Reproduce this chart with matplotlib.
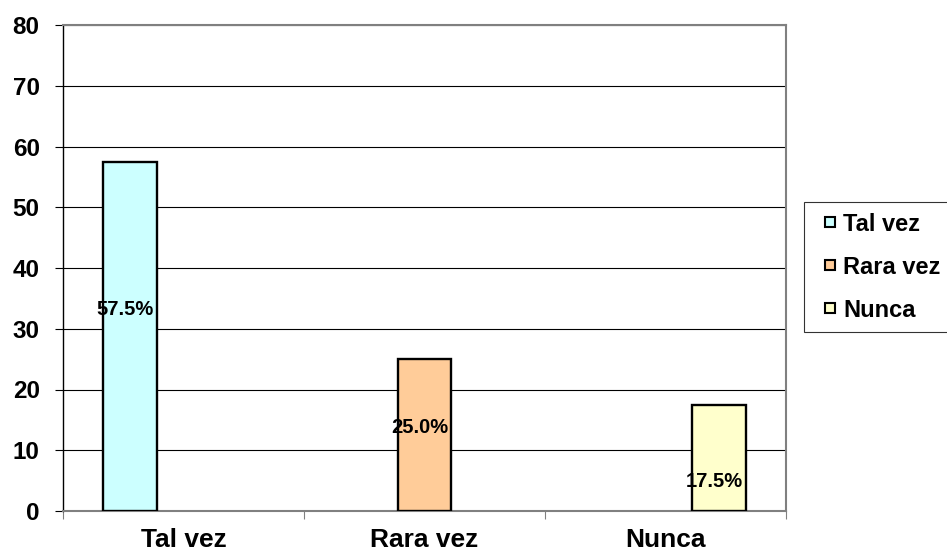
import matplotlib
matplotlib.use("Agg")
import matplotlib.pyplot as plt
from matplotlib.legend_handler import HandlerPatch
from matplotlib.patches import Rectangle
import numpy as np

categories = ["Tal vez", "Rara vez", "Nunca"]
series = ["Tal vez", "Rara vez", "Nunca"]
values = [57.5, 25.0, 17.5]
labels = ["57.5%", "25.0%", "17.5%"]
label_y = [33.1, 13.7, 4.9]
colors = ["#CCFFFF", "#FFCC99", "#FFFFCC"]
yticks = [0, 10, 20, 30, 40, 50, 60, 70, 80]

plt.rcParams['font.family'] = ['Liberation Sans', 'DejaVu Sans']

fig = plt.figure(figsize=(9.47, 5.51), dpi=100)
ax = fig.add_axes([63/947, 40/551, (786-63)/947, (511-25)/551])

x = np.arange(len(categories))
w = 0.224
offsets = [-w, 0, w]
handles = []
for i, s in enumerate(series):
    h = ax.bar(x[i] + offsets[i], values[i], width=w, color=colors[i],
               edgecolor="black", linewidth=1.7, label=s, zorder=3)
    handles.append(h.patches[0])
    ax.text(x[i] + offsets[i] - 0.02, label_y[i], labels[i], ha="center", va="center",
            fontsize=14.5, fontweight="bold", zorder=4)

ax.set_xlim(-0.5, 2.5)
ax.set_ylim(0, 80)
ax.set_yticks(yticks)
ax.set_yticklabels([str(t) for t in yticks], fontsize=17.5, fontweight="bold")
ax.yaxis.grid(True, color="black", linewidth=0.8, zorder=0)
ax.set_axisbelow(True)

ax.set_xticks([-0.5, 0.5, 1.5, 2.5], minor=False)
ax.set_xticklabels([])
ax.set_xticks(x, minor=True)
ax.set_xticklabels(categories, minor=True, fontsize=19, fontweight="bold")
ax.tick_params(axis="x", which="minor", length=0, pad=12)
ax.tick_params(axis="x", which="major", length=6, color="#808080", direction="out")
ax.tick_params(axis="y", length=5.8, color="black", direction="out", pad=11)

ax.spines["left"].set_color("black")
ax.spines["left"].set_linewidth(1.0)
ax.spines["bottom"].set_color("#808080")
ax.spines["bottom"].set_linewidth(1.5)
ax.spines["top"].set_color("#808080")
ax.spines["top"].set_linewidth(1.5)
ax.spines["right"].set_color("#808080")
ax.spines["right"].set_linewidth(1.5)


def small_square(legend, orig_handle, xdescent, ydescent, width, height, fontsize):
    s = 7.2
    return Rectangle((-xdescent + width - s, -ydescent + (height - s) / 2), s, s)


leg = fig.legend(handles=handles, labels=series, loc="upper left",
                 bbox_to_anchor=(804/947, 1 - 202/551), borderaxespad=0,
                 frameon=True, fancybox=False,
                 prop={"weight": "bold", "size": 17}, handlelength=0.85, handleheight=0.43,
                 handletextpad=0.35, labelspacing=0.85, borderpad=0.45,
                 handler_map={Rectangle: HandlerPatch(patch_func=small_square)})
leg.get_frame().set_edgecolor("black")
leg.get_frame().set_linewidth(0.8)
for p in leg.get_patches():
    p.set_linewidth(1.5)
    p.set_edgecolor("black")

fig.savefig("out.png", dpi=100)
